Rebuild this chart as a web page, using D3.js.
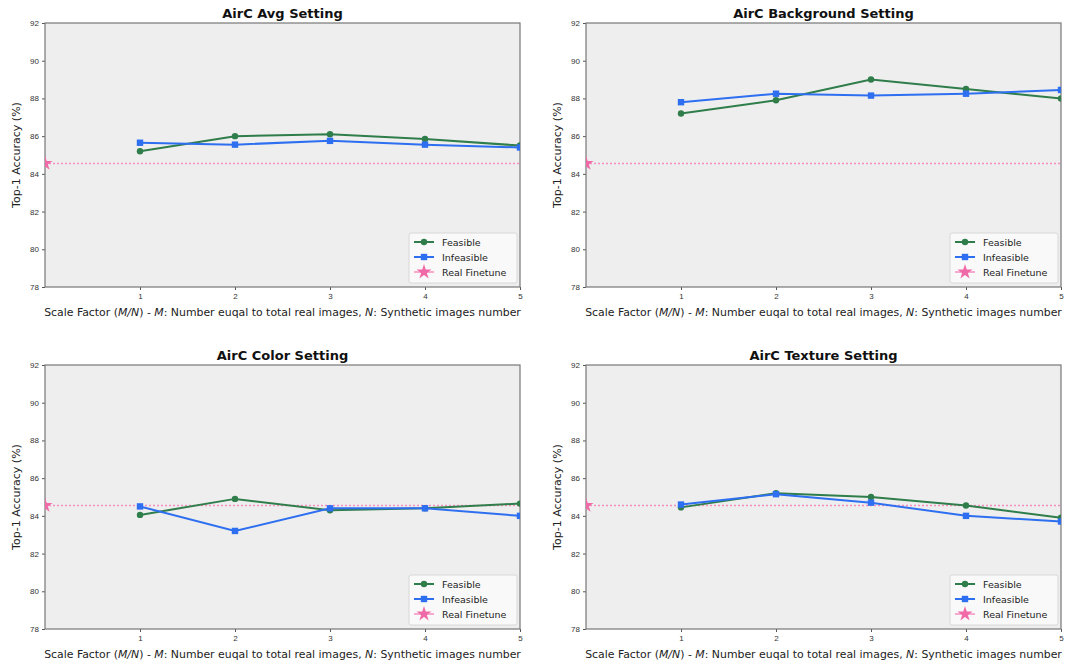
<!DOCTYPE html>
<html>
<head>
<meta charset="utf-8">
<script src="https://cdn.jsdelivr.net/npm/d3@7"></script>
<style>
  body { margin: 0; background: #fff; }
  svg { font-family: "DejaVu Sans", sans-serif; }
  .tick text { fill: #333; font-size: 8px; }
  .tick line { stroke: #555; }
  .domain { display: none; }
</style>
</head>
<body>
<div id="chart"></div>
<script>
// chart data
var titles = ['AirC Avg Setting', 'AirC Background Setting', 'AirC Color Setting', 'AirC Texture Setting'];
var scales = [1, 2, 3, 4, 5];
var feasible = [
    [85.2, 86.0, 86.1, 85.85, 85.5],
    [87.2, 87.9, 89.0, 88.5, 88.0],
    [84.05, 84.9, 84.3, 84.4, 84.65],
    [84.45, 85.2, 85.0, 84.55, 83.9]
];
var infeasible = [
    [85.65, 85.55, 85.75, 85.55, 85.4],
    [87.8, 88.25, 88.15, 88.25, 88.45],
    [84.5, 83.2, 84.4, 84.4, 84.0],
    [84.6, 85.15, 84.7, 84.0, 83.7]
];
var realFinetune = 84.55;
var yTicks = [78, 80, 82, 84, 86, 88, 90, 92];
var legendLabels = ['Feasible', 'Infeasible', 'Real Finetune'];

var green = '#2f7d4a', blue = '#2d6ff0', pink = '#f06aa8', pinkLine = '#f58fc0';

var width = 1067, height = 667;
var pw = 475, ph = 264;
var origins = [[45, 23], [586, 23], [45, 365], [586, 365]];

var svg = d3.select('#chart').append('svg')
    .attr('width', width)
    .attr('height', height);

var defs = svg.append('defs');

titles.forEach(function (title, i) {
    var g = svg.append('g')
        .attr('transform', 'translate(' + origins[i][0] + ',' + origins[i][1] + ')');

    var xScale = d3.scaleLinear().domain([0, 5]).range([0, pw]);
    var yScale = d3.scaleLinear().domain([78, 92]).range([ph, 0]);

    defs.append('clipPath').attr('id', 'clip' + i)
        .append('rect').attr('width', pw).attr('height', ph);

    g.append('rect')
        .attr('width', pw).attr('height', ph)
        .attr('fill', '#eeeeee');

    g.append('g')
        .attr('transform', 'translate(0,' + ph + ')')
        .call(d3.axisBottom(xScale).tickValues(scales).tickSize(3).tickPadding(3).tickFormat(d3.format('d')));

    g.append('g')
        .call(d3.axisLeft(yScale).tickValues(yTicks).tickSize(3).tickPadding(3));

    g.append('rect')
        .attr('width', pw).attr('height', ph)
        .attr('fill', 'none')
        .attr('stroke', '#777')
        .attr('stroke-width', 1.2);

    var plot = g.append('g').attr('clip-path', 'url(#clip' + i + ')');

    // real finetune baseline
    var ry = Math.round(yScale(realFinetune)) + 0.5;
    plot.append('line')
        .attr('x1', xScale(0)).attr('x2', xScale(5))
        .attr('y1', ry).attr('y2', ry)
        .attr('stroke', pinkLine).attr('stroke-width', 1.3)
        .attr('stroke-dasharray', '2,2');
    plot.append('path')
        .attr('d', d3.symbol().type(d3.symbolStar).size(70)())
        .attr('transform', 'translate(' + xScale(0) + ',' + yScale(realFinetune) + ')')
        .attr('fill', pink);

    var line = d3.line()
        .x(function (d, j) { return xScale(scales[j]); })
        .y(function (d) { return yScale(d); });

    plot.append('path').datum(feasible[i])
        .attr('d', line).attr('fill', 'none')
        .attr('stroke', green).attr('stroke-width', 2);
    plot.selectAll('.fdot').data(feasible[i]).enter()
        .append('circle')
        .attr('cx', function (d, j) { return xScale(scales[j]); })
        .attr('cy', function (d) { return yScale(d); })
        .attr('r', 3.2)
        .attr('fill', green);

    plot.append('path').datum(infeasible[i])
        .attr('d', line).attr('fill', 'none')
        .attr('stroke', blue).attr('stroke-width', 2);
    plot.selectAll('.idot').data(infeasible[i]).enter()
        .append('rect')
        .attr('x', function (d, j) { return xScale(scales[j]) - 3.2; })
        .attr('y', function (d) { return yScale(d) - 3.2; })
        .attr('width', 6.4).attr('height', 6.4)
        .attr('fill', blue);

    // title and axis labels
    g.append('text')
        .attr('x', pw / 2).attr('y', -5)
        .attr('text-anchor', 'middle')
        .style('font-size', '13px').style('font-weight', 'bold')
        .attr('fill', '#111')
        .text(title);

    g.append('text')
        .attr('transform', 'translate(-25,' + ph / 2 + ') rotate(-90)')
        .attr('text-anchor', 'middle')
        .style('font-size', '11px')
        .attr('fill', '#222')
        .text('Top-1 Accuracy (%)');

    var xl = g.append('text')
        .attr('x', pw / 2).attr('y', ph + 29)
        .attr('text-anchor', 'middle')
        .style('font-size', '10.9px')
        .attr('fill', '#222');
    xl.append('tspan').text('Scale Factor (');
    xl.append('tspan').style('font-style', 'italic').text('M/N');
    xl.append('tspan').text(') - ');
    xl.append('tspan').style('font-style', 'italic').text('M');
    xl.append('tspan').text(': Number euqal to total real images, ');
    xl.append('tspan').style('font-style', 'italic').text('N');
    xl.append('tspan').text(': Synthetic images number');

    // legend
    var lg = g.append('g').attr('transform', 'translate(' + (pw - 111) + ',' + (ph - 54) + ')');
    lg.append('rect')
        .attr('width', 108).attr('height', 50)
        .attr('rx', 2)
        .attr('fill', '#fafafa').attr('fill-opacity', 0.85)
        .attr('stroke', '#d8d8d8');
    var cols = [green, blue, pinkLine];
    legendLabels.forEach(function (lab, k) {
        var yy = 9 + k * 15;
        lg.append('line')
            .attr('x1', 5).attr('x2', 25)
            .attr('y1', yy).attr('y2', yy)
            .attr('stroke', cols[k])
            .attr('stroke-width', k === 2 ? 1.5 : 2);
        if (k === 0) {
            lg.append('circle').attr('cx', 15).attr('cy', yy).attr('r', 3.2).attr('fill', green);
        } else if (k === 1) {
            lg.append('rect').attr('x', 11.8).attr('y', yy - 3.2).attr('width', 6.4).attr('height', 6.4).attr('fill', blue);
        } else {
            lg.append('path')
                .attr('d', d3.symbol().type(d3.symbolStar).size(70)())
                .attr('transform', 'translate(15,' + yy + ')')
                .attr('fill', pink);
        }
        lg.append('text')
            .attr('x', 33).attr('y', yy + 3.5)
            .style('font-size', '9.5px')
            .attr('fill', '#222')
            .text(lab);
    });
});
</script>
</body>
</html>
